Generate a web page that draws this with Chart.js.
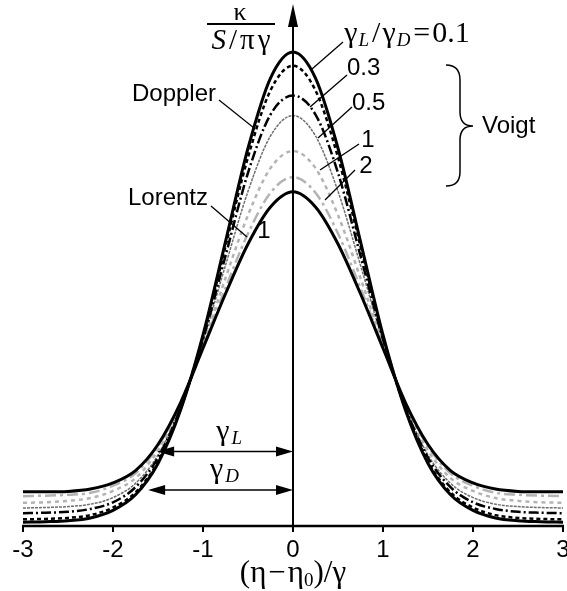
<!DOCTYPE html>
<html>
<head>
<meta charset="utf-8">
<script src="https://cdn.jsdelivr.net/npm/chart.js@4"></script>
<style>
  html, body { margin: 0; padding: 0; background: #fff; }
  #wrap { width: 567px; height: 591px; position: relative; }
</style>
</head>
<body>
<div id="wrap"><canvas id="profileChart"></canvas></div>
<script>
// frequency offset (eta - eta0)/gamma
const xs = [-3, -2.75, -2.5, -2.25, -2, -1.75, -1.5, -1.25, -1, -0.75, -0.5, -0.25, 0,
            0.25, 0.5, 0.75, 1, 1.25, 1.5, 1.75, 2, 2.25, 2.5, 2.75, 3];

// normalised absorption coefficient kappa / (S / pi gamma)
const doppler = [0.008, 0.009, 0.011, 0.017, 0.033, 0.066, 0.132, 0.244, 0.403, 0.600, 0.797, 0.945, 1.000,
                 0.945, 0.797, 0.600, 0.403, 0.244, 0.132, 0.066, 0.033, 0.017, 0.011, 0.009, 0.008];
const voigt01 = [0.014, 0.015, 0.017, 0.023, 0.039, 0.071, 0.136, 0.246, 0.400, 0.590, 0.778, 0.919, 0.971,
                 0.919, 0.778, 0.590, 0.400, 0.246, 0.136, 0.071, 0.039, 0.023, 0.017, 0.015, 0.014];
const voigt03 = [0.027, 0.028, 0.030, 0.036, 0.050, 0.082, 0.144, 0.249, 0.394, 0.570, 0.745, 0.868, 0.908,
                 0.868, 0.745, 0.570, 0.394, 0.249, 0.144, 0.082, 0.050, 0.036, 0.030, 0.028, 0.027];
const voigt05 = [0.038, 0.039, 0.041, 0.046, 0.060, 0.090, 0.150, 0.251, 0.390, 0.550, 0.706, 0.823, 0.866,
                 0.823, 0.706, 0.550, 0.390, 0.251, 0.150, 0.090, 0.060, 0.046, 0.041, 0.039, 0.038];
const voigt1  = [0.049, 0.050, 0.053, 0.059, 0.074, 0.101, 0.160, 0.255, 0.383, 0.523, 0.656, 0.755, 0.791,
                 0.755, 0.656, 0.523, 0.383, 0.255, 0.160, 0.101, 0.074, 0.059, 0.053, 0.050, 0.049];
const voigt2  = [0.063, 0.064, 0.066, 0.070, 0.085, 0.111, 0.168, 0.258, 0.378, 0.502, 0.617, 0.703, 0.736,
                 0.703, 0.617, 0.502, 0.378, 0.258, 0.168, 0.111, 0.085, 0.070, 0.066, 0.064, 0.063];
const lorentz = [0.072, 0.072, 0.073, 0.078, 0.091, 0.117, 0.172, 0.260, 0.375, 0.490, 0.595, 0.673, 0.705,
                 0.673, 0.595, 0.490, 0.375, 0.260, 0.172, 0.117, 0.091, 0.078, 0.073, 0.072, 0.072];

const tickValues = [-3, -2, -1, 0, 1, 2, 3];
const tickLabels = ['-3', '-2', '-1', '0', '1', '2', '3'];

// half-width markers: [label subscript, left end x, height]
const widthMarks = [['L', -1.51, 0.157], ['D', -1.61, 0.076]];

const SANS = '"Liberation Sans", Arial, sans-serif';
const SERIF = '"Liberation Serif", "Times New Roman", serif';
const BIG = '30px ' + SERIF;
const SUB = 'italic 19px ' + SERIF;

function pts(arr) { return xs.map((x, i) => ({ x: x, y: arr[i] })); }

function line(ctx, x1, y1, x2, y2) {
    ctx.beginPath(); ctx.moveTo(x1, y1); ctx.lineTo(x2, y2); ctx.stroke();
}

function head(ctx, tx, ty, dir) {
    // filled arrow head, dir: 1 = right, -1 = left
    ctx.beginPath();
    ctx.moveTo(tx, ty);
    ctx.lineTo(tx - dir * 17, ty - 5);
    ctx.lineTo(tx - dir * 17, ty + 5);
    ctx.closePath(); ctx.fill();
}

// mixed-font runs centred on cx, baseline at by; part = [text, font, dy, extra gap]
function runs(ctx, parts, cx, by) {
    let w = 0;
    parts.forEach(p => { ctx.font = p[1]; w += ctx.measureText(p[0]).width + (p[3] || 0); });
    let px = cx - w / 2;
    ctx.textAlign = 'left'; ctx.textBaseline = 'alphabetic';
    parts.forEach(p => {
        ctx.font = p[1];
        ctx.fillText(p[0], px, by + (p[2] || 0));
        px += ctx.measureText(p[0]).width + (p[3] || 0);
    });
}

const overlay = {
    id: 'overlay',
    afterDatasetsDraw(chart) {
        const ctx = chart.ctx;
        const sx = chart.scales.x, sy = chart.scales.y;
        const x0 = sx.getPixelForValue(0), y0 = sy.getPixelForValue(0);
        ctx.save();
        ctx.strokeStyle = '#000'; ctx.fillStyle = '#000';

        // x axis with ticks
        ctx.lineWidth = 2.5;
        line(ctx, sx.getPixelForValue(-3) - 1, y0, sx.getPixelForValue(3) + 1, y0);
        ctx.lineWidth = 2;
        tickValues.forEach(t => { const px = sx.getPixelForValue(t); line(ctx, px, y0, px, y0 + 6); });
        ctx.font = '24px ' + SANS;
        ctx.textAlign = 'center'; ctx.textBaseline = 'alphabetic';
        tickLabels.forEach((lab, i) => ctx.fillText(lab, sx.getPixelForValue(tickValues[i]), y0 + 31));

        // y axis with arrow
        const top = chart.chartArea.top;
        line(ctx, x0, y0, x0, top + 18);
        ctx.beginPath();
        ctx.moveTo(x0, top); ctx.lineTo(x0 - 5, top + 23); ctx.lineTo(x0 + 5, top + 23);
        ctx.closePath(); ctx.fill();

        // axis titles
        ctx.font = '26px ' + SERIF; ctx.textAlign = 'center';
        ctx.fillText('\u03ba', 240, 20);
        ctx.lineWidth = 2;
        line(ctx, 207, 24, 275, 24);
        runs(ctx, [['S', 'italic 29px ' + SERIF, 0, 3], ['/', '29px ' + SERIF, 0, 3],
                   ['\u03c0', '29px ' + SERIF, 0, 3], ['\u03b3', '29px ' + SERIF]], 241, 49);
        runs(ctx, [['(\u03b7', '31px ' + SERIF, 0, 2], ['\u2212', '31px ' + SERIF, 0, 2],
                   ['\u03b7', '31px ' + SERIF], ['0', '19px ' + SERIF, 4],
                   [')/\u03b3', '31px ' + SERIF]], x0, 582);

        // half-width arrows
        ctx.lineWidth = 1.5;
        widthMarks.forEach(m => {
            const yy = sy.getPixelForValue(m[2]);
            const xl = sx.getPixelForValue(m[1]);
            line(ctx, xl + 4, yy, x0 - 4, yy);
            head(ctx, xl, yy, -1); head(ctx, x0, yy, 1);
            runs(ctx, [['\u03b3', BIG, 0, 2], [m[0], SUB, 4]], (xl + x0) / 2 + 4, yy - 12);
        });

        // ratio labels with leaders
        runs(ctx, [['\u03b3', BIG, 0, 1], ['L', SUB, 4, 3], ['/', BIG, 0, 2],
                   ['\u03b3', BIG, 0, 1], ['D', SUB, 4, 3], ['=', BIG, 0, 2],
                   ['0.1', BIG]], 407, 42);
        ctx.font = '24px ' + SANS; ctx.textAlign = 'left';
        ctx.fillText('0.3', 347, 75);
        ctx.fillText('0.5', 352, 110);
        ctx.textAlign = 'center';
        ctx.fillText('1', 368, 147);
        ctx.fillText('2', 366, 173);
        ctx.fillText('1', 264, 238);
        ctx.fillText('Doppler', 174, 101);
        ctx.textAlign = 'right';
        ctx.fillText('Lorentz', 208, 205);
        ctx.textAlign = 'left';
        ctx.fillText('Voigt', 482, 133);

        ctx.lineWidth = 1.3;
        line(ctx, 343, 42, 312, 69);
        line(ctx, 347, 75, 310, 107);
        line(ctx, 352, 107, 318, 138);
        line(ctx, 359, 144, 320, 170);
        line(ctx, 355, 170, 325, 200);
        line(ctx, 219, 100, 254, 128);
        line(ctx, 211, 206, 247, 237);

        // brace grouping the Voigt profiles
        ctx.lineWidth = 1.5;
        ctx.beginPath();
        ctx.moveTo(446, 65);
        ctx.quadraticCurveTo(460, 65, 460, 80);
        ctx.lineTo(460, 112);
        ctx.quadraticCurveTo(460, 126, 473, 126);
        ctx.quadraticCurveTo(460, 126, 460, 140);
        ctx.lineTo(460, 172);
        ctx.quadraticCurveTo(460, 186, 446, 186);
        ctx.stroke();

        ctx.restore();
    }
};

function series(data, color, width, dash) {
    return {
        data: pts(data), borderColor: color, borderWidth: width, borderDash: dash,
        pointRadius: 0, fill: false, cubicInterpolationMode: 'monotone'
    };
}

new Chart(document.getElementById('profileChart'), {
    type: 'line',
    data: {
        datasets: [
            series(doppler, '#000', 3, []),
            series(lorentz, '#000', 3, []),
            series(voigt01, '#000', 2.5, [4, 3]),
            series(voigt03, '#000', 2.5, [10, 3, 2, 3]),
            series(voigt05, '#707070', 1.5, [3, 1]),
            series(voigt1, '#b3b3b3', 2.5, [4, 4]),
            series(voigt2, '#b3b3b3', 2.5, [11, 4, 3, 4])
        ]
    },
    options: {
        responsive: true,
        maintainAspectRatio: false,
        animation: false,
        layout: { padding: { left: 23, right: 4, top: 4, bottom: 65 } },
        plugins: { legend: { display: false }, tooltip: { enabled: false } },
        scales: {
            x: { type: 'linear', min: -3, max: 3, display: false },
            y: { min: 0, max: 1.1013, display: false }
        }
    },
    plugins: [overlay]
});
</script>
</body>
</html>
